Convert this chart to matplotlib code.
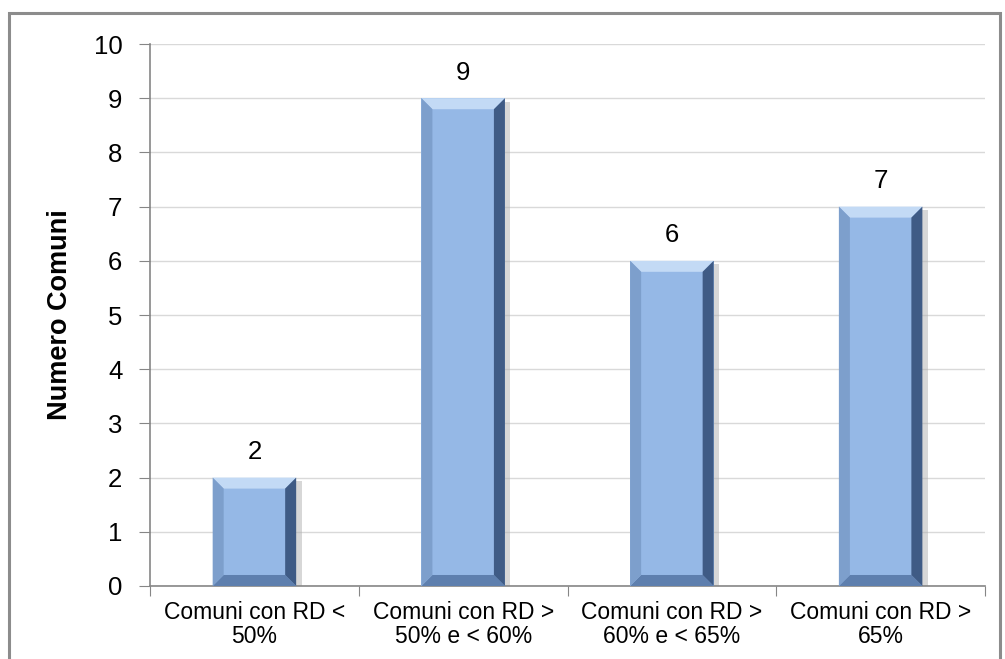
import matplotlib.pyplot as plt
from matplotlib.patches import Polygon, Rectangle

plt.rcParams['font.family'] = ['Liberation Sans', 'DejaVu Sans']

categories = ["Comuni con RD <\n50%", "Comuni con RD >\n50% e < 60%",
              "Comuni con RD >\n60% e < 65%", "Comuni con RD >\n65%"]
values = [2, 9, 6, 7]

fig = plt.figure(figsize=(10.05, 6.59), dpi=100)
ax = fig.add_axes([0.1493, 0.1108, 0.8308, 0.8224])

x = list(range(len(values)))
bar_w = 0.4
bars = ax.bar(x, values, width=bar_w, color="#95B8E6", edgecolor="none", zorder=3)

ax.set_xlim(-0.5, len(values) - 0.5)
ax.set_ylim(0, 10)
ax.set_yticks(range(0, 11))
ax.tick_params(axis='y', labelsize=18.5, length=8, color="#868686", pad=12)
ax.set_xticks([i - 0.5 for i in range(len(values) + 1)], minor=False)
ax.set_xticklabels([])
ax.set_xticks(x, minor=True)
ax.set_xticklabels(categories, minor=True, fontsize=16.5)
ax.tick_params(axis='x', which='major', length=7, color="#868686")
ax.tick_params(axis='x', which='minor', length=0, pad=11)
for lbl in ax.get_xticklabels(minor=True):
    lbl.set_linespacing(1.05)

ax.yaxis.grid(True, color="#D9D9D9", linewidth=1, zorder=0)
ax.set_axisbelow(True)
for s in ["top", "right"]:
    ax.spines[s].set_visible(False)
for s in ["left", "bottom"]:
    ax.spines[s].set_color("#868686")
    ax.spines[s].set_linewidth(1.2)

ax.set_ylabel("Numero Comuni", fontsize=19.5, fontweight="bold", labelpad=15)

# bevel effect on each bar
fig.canvas.draw()
inv = ax.transData.inverted()
dx = inv.transform((11, 0))[0] - inv.transform((0, 0))[0]
dy = inv.transform((0, 11))[1] - inv.transform((0, 0))[1]
for b in bars:
    x0, x1 = b.get_x(), b.get_x() + b.get_width()
    y0, y1 = 0, b.get_height()
    # shadow
    ax.add_patch(Rectangle((x1, y0), dx * 0.5, y1 - dy * 0.3, color="#B0B0B0", alpha=0.5, zorder=2, lw=0))
    facets = [
        ([(x0, y1), (x1, y1), (x1 - dx, y1 - dy), (x0 + dx, y1 - dy)], "#C3DAF5"),
        ([(x0, y0), (x1, y0), (x1 - dx, y0 + dy), (x0 + dx, y0 + dy)], "#5E7FAE"),
        ([(x1, y0), (x1, y1), (x1 - dx, y1 - dy), (x1 - dx, y0 + dy)], "#3F5B85"),
        ([(x0, y0), (x0, y1), (x0 + dx, y1 - dy), (x0 + dx, y0 + dy)], "#7D9FCC"),
    ]
    for pts, col in facets:
        ax.add_patch(Polygon(pts, closed=True, color=col, lw=0, zorder=4))
    ax.text(b.get_x() + b.get_width() / 2, y1 + 0.25, str(int(y1)),
            ha="center", va="bottom", fontsize=18.5, zorder=5)

# outer frame
fig.patches.append(Rectangle((0.009, -0.01), 0.986, 0.99, transform=fig.transFigure,
                             fill=False, edgecolor="#8C8C8C", linewidth=2.2))

fig.savefig("out.png", dpi=100)
